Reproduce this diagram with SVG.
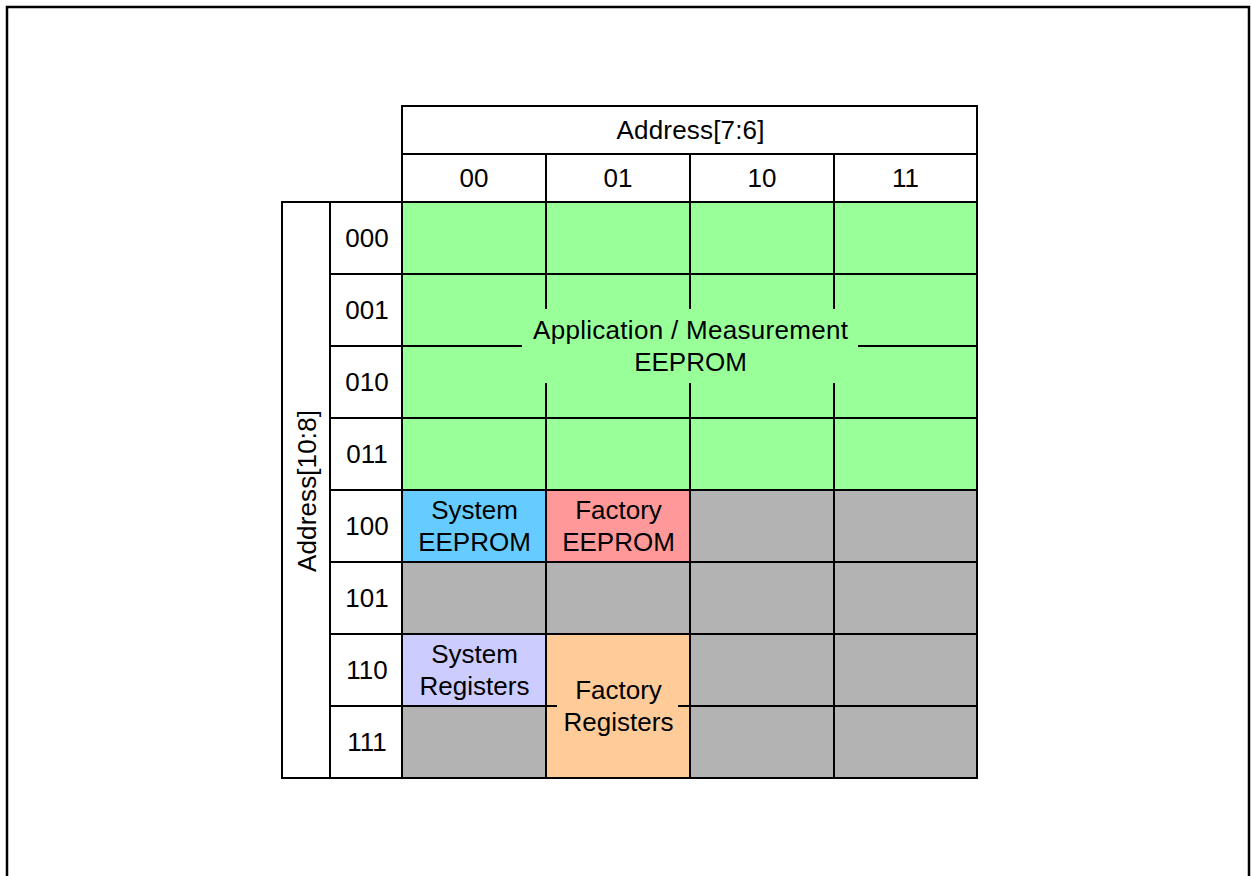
<svg xmlns="http://www.w3.org/2000/svg" width="1252" height="876" viewBox="0 0 1252 876">
<style>
  .c { stroke: #000; stroke-width: 2; }
  .w { fill: #fff; }
  .g { fill: #99FF99; }
  .x { fill: #B3B3B3; }
  .b { fill: #66CCFF; }
  .p { fill: #FF9999; }
  .l { fill: #CCCCFF; }
  .o { fill: #FFCC99; }
  text { font-family: "Liberation Sans", Arial, sans-serif; font-size: 26px; fill: #000; text-anchor: middle; }
</style>
<rect x="0" y="0" width="1252" height="876" fill="#fff"/>
<rect id="frame" x="7" y="7" width="1242" height="890" fill="none" stroke="#000" stroke-width="2.5"/>

<g id="col-header">
  <rect class="c w" x="402" y="106" width="575" height="48"/>
  <text x="690.5" y="139.3" textLength="148" lengthAdjust="spacing">Address[7:6]</text>
  <rect class="c w" x="402" y="154" width="144" height="48"/>
  <rect class="c w" x="546" y="154" width="144" height="48"/>
  <rect class="c w" x="690" y="154" width="144" height="48"/>
  <rect class="c w" x="834" y="154" width="143" height="48"/>
  <text x="474" y="187.3">00</text>
  <text x="618" y="187.3">01</text>
  <text x="762" y="187.3">10</text>
  <text x="905.5" y="187.3">11</text>
</g>

<g id="row-header">
  <rect class="c w" x="282" y="202" width="48" height="576"/>
  <text transform="rotate(-90 306 491)" x="306" y="501" textLength="162" lengthAdjust="spacing">Address[10:8]</text>
  <rect class="c w" x="330" y="202" width="72" height="72"/>
  <rect class="c w" x="330" y="274" width="72" height="72"/>
  <rect class="c w" x="330" y="346" width="72" height="72"/>
  <rect class="c w" x="330" y="418" width="72" height="72"/>
  <rect class="c w" x="330" y="490" width="72" height="72"/>
  <rect class="c w" x="330" y="562" width="72" height="72"/>
  <rect class="c w" x="330" y="634" width="72" height="72"/>
  <rect class="c w" x="330" y="706" width="72" height="72"/>
  <text x="367" y="247.3">000</text>
  <text x="367" y="319.3">001</text>
  <text x="367" y="391.3">010</text>
  <text x="367" y="463.3">011</text>
  <text x="367" y="535.3">100</text>
  <text x="367" y="607.3">101</text>
  <text x="367" y="679.3">110</text>
  <text x="367" y="751.3">111</text>
</g>

<g id="app-eeprom">
  <rect class="c g" x="402" y="202" width="144" height="72"/>
  <rect class="c g" x="546" y="202" width="144" height="72"/>
  <rect class="c g" x="690" y="202" width="144" height="72"/>
  <rect class="c g" x="834" y="202" width="143" height="72"/>
  <rect class="c g" x="402" y="274" width="144" height="72"/>
  <rect class="c g" x="546" y="274" width="144" height="72"/>
  <rect class="c g" x="690" y="274" width="144" height="72"/>
  <rect class="c g" x="834" y="274" width="143" height="72"/>
  <rect class="c g" x="402" y="346" width="144" height="72"/>
  <rect class="c g" x="546" y="346" width="144" height="72"/>
  <rect class="c g" x="690" y="346" width="144" height="72"/>
  <rect class="c g" x="834" y="346" width="143" height="72"/>
  <rect class="c g" x="402" y="418" width="144" height="72"/>
  <rect class="c g" x="546" y="418" width="144" height="72"/>
  <rect class="c g" x="690" y="418" width="144" height="72"/>
  <rect class="c g" x="834" y="418" width="143" height="72"/>
  <rect class="g" x="522" y="309" width="336" height="74"/>
  <text x="690.5" y="339.3" textLength="315" lengthAdjust="spacing">Application / Measurement</text>
  <text x="690.5" y="371.3">EEPROM</text>
</g>

<g id="system-eeprom">
  <rect class="c b" x="402" y="490" width="144" height="72"/>
  <text x="474.5" y="519.3">System</text>
  <text x="474.5" y="551.3">EEPROM</text>
</g>

<g id="factory-eeprom">
  <rect class="c p" x="546" y="490" width="144" height="72"/>
  <text x="618.5" y="519.3">Factory</text>
  <text x="618.5" y="551.3">EEPROM</text>
</g>

<g id="reserved">
  <rect class="c x" x="690" y="490" width="144" height="72"/>
  <rect class="c x" x="834" y="490" width="143" height="72"/>
  <rect class="c x" x="402" y="562" width="144" height="72"/>
  <rect class="c x" x="546" y="562" width="144" height="72"/>
  <rect class="c x" x="690" y="562" width="144" height="72"/>
  <rect class="c x" x="834" y="562" width="143" height="72"/>
  <rect class="c x" x="690" y="634" width="144" height="72"/>
  <rect class="c x" x="834" y="634" width="143" height="72"/>
  <rect class="c x" x="402" y="706" width="144" height="72"/>
  <rect class="c x" x="690" y="706" width="144" height="72"/>
  <rect class="c x" x="834" y="706" width="143" height="72"/>
</g>

<g id="system-registers">
  <rect class="c l" x="402" y="634" width="144" height="72"/>
  <text x="474.5" y="663.3">System</text>
  <text x="474.5" y="695.3">Registers</text>
</g>

<g id="factory-registers">
  <rect class="c o" x="546" y="634" width="144" height="144"/>
  <line class="c" x1="546" y1="706" x2="557" y2="706"/>
  <line class="c" x1="678" y1="706" x2="690" y2="706"/>
  <text x="618.5" y="699.3">Factory</text>
  <text x="618.5" y="731.3">Registers</text>
</g>
</svg>
